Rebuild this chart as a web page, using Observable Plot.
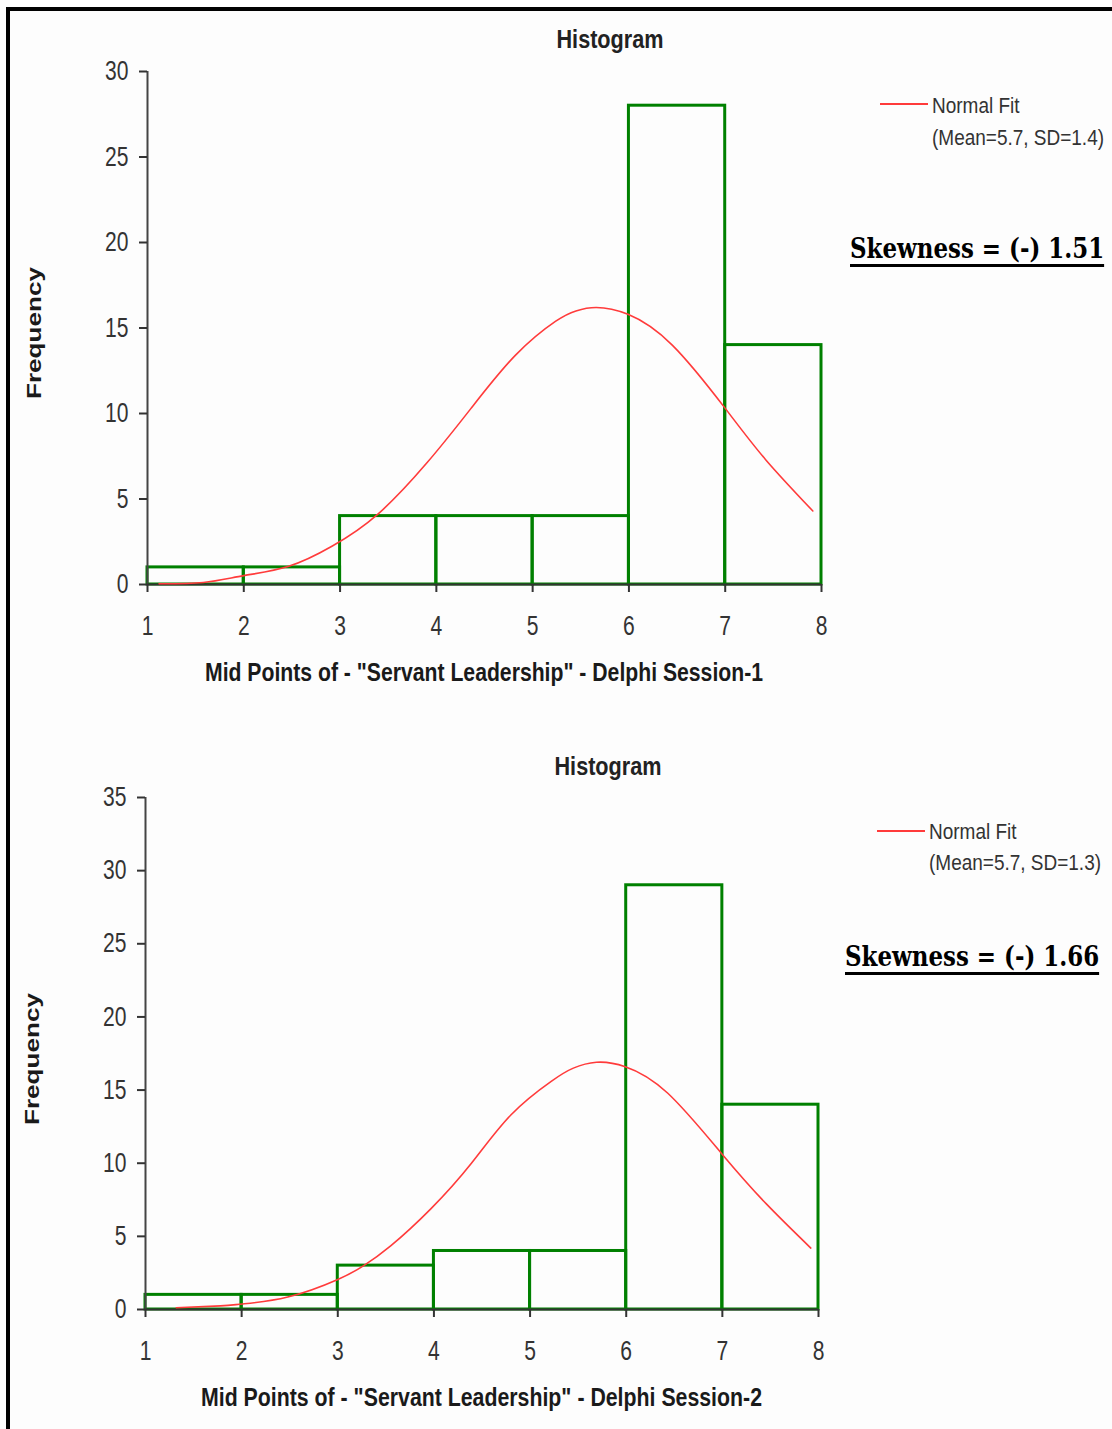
<!DOCTYPE html>
<html>
<head>
<meta charset="utf-8">
<script src="https://cdn.jsdelivr.net/npm/d3@7"></script>
<script src="https://cdn.jsdelivr.net/npm/@observablehq/plot@0.6"></script>
<style>
  html, body { margin: 0; padding: 0; background: #fff; }
  #page { position: relative; width: 1112px; height: 1429px; overflow: hidden; background: #fdfdfd; }
  #frame { position: absolute; left: 6px; top: 7px; width: 1300px; height: 1600px;
           border-left: 4px solid #000; border-top: 4px solid #000; pointer-events: none; z-index: 2; }
  .panel { position: absolute; left: 0; }
  .panel svg { display: block; }
</style>
</head>
<body>
<div id="page">
  <div id="frame"></div>
  <div class="panel" id="session1" style="top:0px"></div>
  <div class="panel" id="session2" style="top:725px"></div>
</div>
<script>
// Class edges of the histogram and the x tick values
const binEdges = [1, 2, 3, 4, 5, 6, 7, 8];
const xTicks = [1, 2, 3, 4, 5, 6, 7, 8];

// Frequencies per class, Delphi sessions 1 and 2
const freqSession1 = [1, 1, 4, 4, 4, 28, 14];
const freqSession2 = [1, 1, 3, 4, 4, 29, 14];

// y tick values
const yTicks1 = [0, 5, 10, 15, 20, 25, 30];
const yTicks2 = [0, 5, 10, 15, 20, 25, 30, 35];

// Normal fit curves (sampled points)
const fitX1 = [1.12, 1.58, 2.0, 2.46, 2.92, 3.39, 3.9, 4.36, 4.82, 5.24, 5.45, 5.66, 5.99, 6.45, 7.0, 7.42, 7.91];
const fitY1 = [0.04, 0.12, 0.52, 1.05, 2.25, 4.1, 7.1, 10.3, 13.4, 15.4, 16.0, 16.2, 15.8, 14.0, 10.3, 7.3, 4.3];
const fitX2 = [1.32, 1.78, 2.01, 2.48, 3.0, 3.27, 3.55, 3.97, 4.39, 4.8, 5.22, 5.45, 5.69, 5.99, 6.43, 7.0, 7.46, 7.92];
const fitY2 = [0.12, 0.25, 0.38, 0.85, 2.05, 3.0, 4.35, 6.9, 10.0, 13.3, 15.6, 16.5, 16.9, 16.6, 14.8, 10.6, 7.2, 4.2];

// Text
const sessionNames = ["Delphi Session-1", "Delphi Session-2"];
const fitLabels = ["(Mean=5.7, SD=1.4)", "(Mean=5.7, SD=1.3)"];
const skewLabels = ["Skewness = (-) 1.51", "Skewness = (-) 1.66"];

const SANS = '"Liberation Sans", Arial, sans-serif';
const SLAB = '"DejaVu Serif Condensed", "DejaVu Serif", serif';

function histogram({freq, fitX, fitY, yMax, yTicks, height, ml, mr, mt, mb}) {
  const rows = freq.map((f, i) => ({x1: binEdges[i], x2: binEdges[i + 1], f}));
  const fit = fitX.map((x, i) => ({x, y: fitY[i]}));
  return Plot.plot({
    width: 1112,
    height,
    marginLeft: ml, marginRight: mr, marginTop: mt, marginBottom: mb,
    style: {fontFamily: SANS, fontSize: "27px", color: "#333", background: "transparent", overflow: "visible"},
    x: {domain: [1, 8]},
    y: {domain: [0, yMax]},
    marks: [
      Plot.rectY(rows, {x1: "x1", x2: "x2", y: "f", fill: "none", stroke: "#008000", strokeWidth: 3}),
      Plot.ruleX([1], {stroke: "#444", strokeWidth: 2}),
      Plot.ruleY([0], {stroke: "#333", strokeWidth: 2}),
      Plot.axisY({ticks: yTicks, tickSize: 8, tickPadding: 11, tickFormat: d => String(d), label: null, strokeWidth: 2}),
      Plot.axisX({ticks: xTicks, tickSize: 8, tickPadding: 23, tickFormat: d => String(d), label: null, strokeWidth: 2}),
      Plot.line(fit, {x: "x", y: "y", stroke: "#ff3b3b", strokeWidth: 1.6, curve: "natural"})
    ]
  });
}

// Condense the tick labels horizontally (narrow face look)
function condenseTicks(svg, factor) {
  d3.select(svg).selectAll('g[aria-label$="tick label"] text').each(function () {
    const w = this.getComputedTextLength();
    this.setAttribute("textLength", w * factor);
    this.setAttribute("lengthAdjust", "spacingAndGlyphs");
  });
}

function annotate(svg, a) {
  const g = d3.select(svg).append("g").attr("text-anchor", "start");
  // chart title
  g.append("text")
    .attr("x", a.title[0] - 53.5).attr("y", a.title[1])
    .attr("font-family", SANS).attr("font-weight", "bold").attr("font-size", 25)
    .attr("fill", "#222").attr("textLength", 107).attr("lengthAdjust", "spacingAndGlyphs")
    .text("Histogram");
  // x axis label
  g.append("text")
    .attr("x", a.xlabel[0]).attr("y", a.xlabel[1])
    .attr("font-family", SANS).attr("font-weight", "bold").attr("font-size", 25)
    .attr("fill", "#1a1a1a").attr("textLength", a.xlabel[2]).attr("lengthAdjust", "spacingAndGlyphs")
    .text(`Mid Points of - "Servant Leadership" - ${a.session}`);
  // y axis label
  g.append("text")
    .attr("transform", `translate(${a.ylabel[0]},${a.ylabel[1]}) rotate(-90)`)
    .attr("font-family", SANS).attr("font-weight", "bold").attr("font-size", 21)
    .attr("fill", "#1a1a1a").attr("textLength", 132).attr("lengthAdjust", "spacingAndGlyphs")
    .text("Frequency");
  // legend swatch and entries (slightly tall letterforms)
  g.append("line")
    .attr("x1", a.legend[0]).attr("x2", a.legend[0] + 48)
    .attr("y1", a.legend[1]).attr("y2", a.legend[1])
    .attr("stroke", "#ff3b3b").attr("stroke-width", 2);
  g.append("text")
    .attr("transform", `translate(${a.legend[0] + 52},${a.legend[2]}) scale(1,1.18)`)
    .attr("font-family", SANS).attr("font-size", 19).attr("fill", "#333")
    .text("Normal Fit");
  g.append("text")
    .attr("transform", `translate(${a.legend[0] + 52},${a.legend[3]}) scale(1,1.18)`)
    .attr("font-family", SANS).attr("font-size", 19).attr("fill", "#333")
    .text(a.fitLabel);
  // skewness note, underlined
  const skew = g.append("text")
    .attr("transform", `translate(${a.skew[0]},${a.skew[1]}) scale(1,1.12)`)
    .attr("font-family", SLAB).attr("font-weight", "bold").attr("font-size", 25.5)
    .attr("fill", "#000")
    .text(a.skewLabel);
  const w = skew.node().getComputedTextLength();
  g.append("rect")
    .attr("x", a.skew[0]).attr("width", w)
    .attr("y", a.skew[1] + 6).attr("height", 3).attr("fill", "#000");
}

const svg1 = histogram({freq: freqSession1, fitX: fitX1, fitY: fitY1, yMax: 30, yTicks: yTicks1,
  height: 700, ml: 147, mr: 291, mt: 71, mb: 116});
document.getElementById("session1").append(svg1);
condenseTicks(svg1, 0.78);
annotate(svg1, {
  session: sessionNames[0], fitLabel: fitLabels[0], skewLabel: skewLabels[0],
  title: [610, 48], xlabel: [205, 681, 558], ylabel: [41, 399],
  legend: [880, 104, 113, 145], skew: [850, 258]
});

const svg2 = histogram({freq: freqSession2, fitX: fitX2, fitY: fitY2, yMax: 35, yTicks: yTicks2,
  height: 704, ml: 145, mr: 294, mt: 72, mb: 120});
document.getElementById("session2").append(svg2);
condenseTicks(svg2, 0.78);
annotate(svg2, {
  session: sessionNames[1], fitLabel: fitLabels[1], skewLabel: skewLabels[1],
  title: [608, 50], xlabel: [201, 681, 561], ylabel: [39, 400],
  legend: [877, 106, 114, 145], skew: [845, 241]
});
</script>
</body>
</html>
